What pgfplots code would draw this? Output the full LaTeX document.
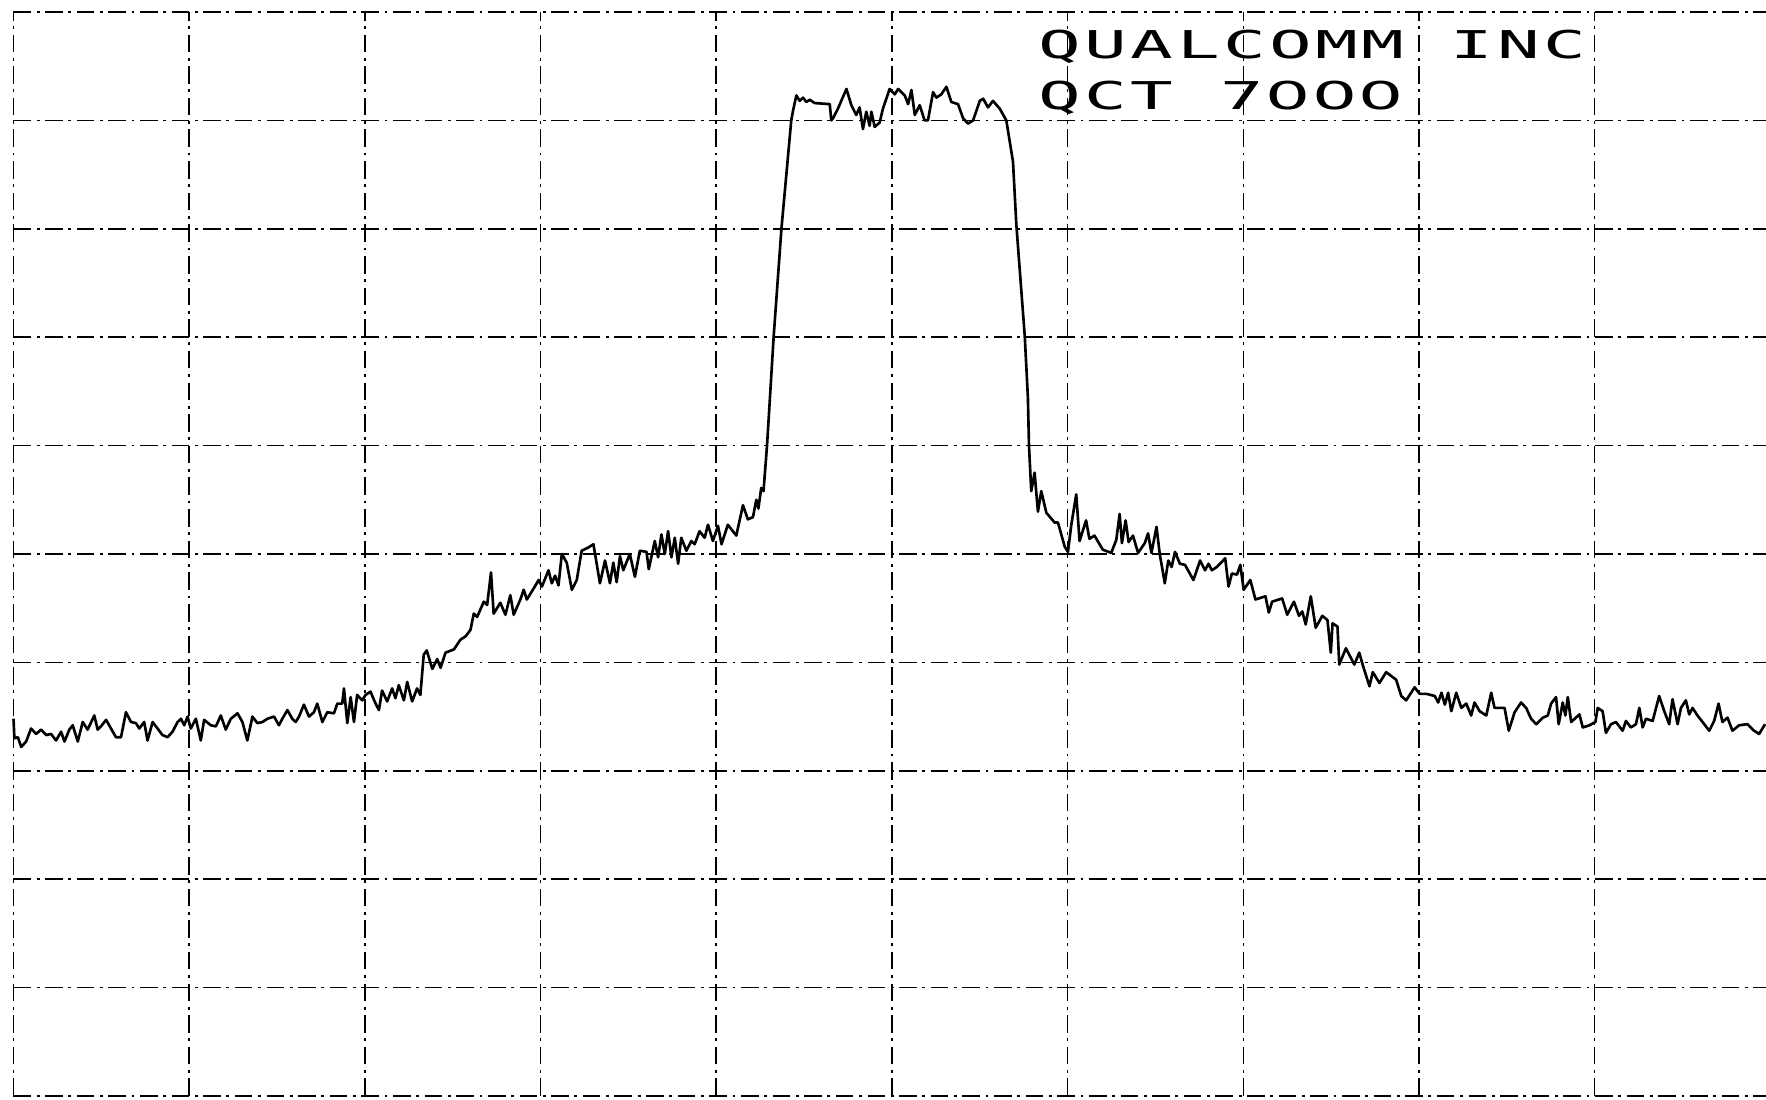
\documentclass[border=0pt]{standalone}
\usepackage{pgfplots}
\pgfplotsset{compat=1.18}
\usepackage{fontspec}
\newfontfamily\plotfont[LetterSpace=5]{DejaVu Sans Mono}
\newfontfamily\plotdigits[LetterSpace=1.6]{DejaVu Sans}
\begin{document}
\begin{tikzpicture}
\path[use as bounding box] (0,0) rectangle (17.66cm,10.99cm);
\begin{axis}[
  at={(0.135cm,0.03cm)}, anchor=south west,
  scale only axis, width=17.525cm, height=10.84cm,
  xmin=0, xmax=9.975, ymin=0, ymax=10,
  xtick={0,1,...,9}, ytick={0,1,...,10},
  xticklabels={}, yticklabels={},
  major tick length=0pt,
  axis line style={draw=none},
  grid=major,
  major grid style={black, line width=0.45pt, dash pattern=on 5pt off 1.6pt on 0.8pt off 1.6pt},
  clip=false,
]
\addplot[black, line width=0.75pt, line join=round, mark=none] coordinates {
(0,3.48)(0.005,3.30)(0.025,3.31)(0.044,3.22)(0.072,3.27)(0.100,3.39)(0.129,3.34)(0.157,3.38)(0.186,3.33)(0.214,3.34)(0.242,3.28)(0.271,3.36)(0.290,3.27)(0.318,3.38)(0.337,3.42)(0.366,3.27)(0.394,3.45)(0.422,3.38)(0.460,3.51)(0.479,3.38)(0.498,3.41)(0.527,3.47)(0.555,3.39)(0.583,3.31)(0.612,3.31)(0.640,3.54)(0.669,3.45)(0.697,3.44)(0.716,3.39)(0.744,3.45)(0.763,3.28)(0.792,3.45)(0.820,3.39)(0.848,3.33)(0.877,3.31)(0.905,3.36)(0.934,3.45)(0.953,3.48)(0.972,3.42)(0.991,3.50)(1.009,3.39)(1.038,3.48)(1.066,3.28)(1.085,3.47)(1.123,3.42)(1.152,3.41)(1.180,3.51)(1.208,3.38)(1.237,3.48)(1.275,3.53)(1.303,3.45)(1.331,3.28)(1.360,3.50)(1.388,3.44)(1.417,3.45)(1.445,3.48)(1.483,3.50)(1.511,3.42)(1.530,3.48)(1.559,3.56)(1.587,3.48)(1.606,3.45)(1.625,3.50)(1.653,3.61)(1.682,3.50)(1.710,3.54)(1.729,3.62)(1.758,3.45)(1.786,3.54)(1.824,3.53)(1.843,3.62)(1.871,3.62)(1.881,3.76)(1.900,3.44)(1.919,3.68)(1.938,3.45)(1.956,3.70)(1.985,3.65)(2.004,3.70)(2.032,3.73)(2.061,3.62)(2.080,3.56)(2.098,3.74)(2.127,3.64)(2.155,3.76)(2.174,3.67)(2.193,3.79)(2.222,3.65)(2.241,3.82)(2.269,3.64)(2.297,3.76)(2.316,3.70)(2.335,4.07)
(2.352,4.11)(2.384,3.94)(2.412,4.03)(2.431,3.95)(2.459,4.09)(2.507,4.12)(2.544,4.21)(2.573,4.24)(2.601,4.30)(2.620,4.45)(2.639,4.42)(2.677,4.56)(2.696,4.53)(2.718,4.83)(2.733,4.45)(2.771,4.55)(2.800,4.44)(2.828,4.62)(2.847,4.44)(2.885,4.58)(2.904,4.67)(2.922,4.58)(2.960,4.68)(2.989,4.76)(3.008,4.70)(3.045,4.85)(3.064,4.73)(3.083,4.80)(3.102,4.71)(3.121,5.00)(3.149,4.92)(3.178,4.67)(3.206,4.76)(3.234,5.03)(3.272,5.06)(3.301,5.09)(3.338,4.73)(3.367,4.94)(3.395,4.73)(3.414,4.92)(3.433,4.74)(3.452,4.98)(3.471,4.85)(3.508,5.00)(3.537,4.79)(3.565,5.03)(3.603,5.02)(3.616,4.86)(3.650,5.12)(3.669,4.97)(3.688,5.18)(3.707,5.00)(3.726,5.21)(3.745,4.97)(3.764,5.15)(3.783,4.91)(3.801,5.15)(3.830,5.03)(3.858,5.12)(3.877,5.09)(3.905,5.21)(3.934,5.15)(3.953,5.27)(3.981,5.12)(4.010,5.26)(4.030,5.09)(4.066,5.27)(4.114,5.17)(4.152,5.45)(4.180,5.32)(4.209,5.34)(4.228,5.50)(4.240,5.42)(4.256,5.61)(4.269,5.58)(4.289,6.00)(4.327,7.01)(4.371,8.00)(4.427,9.00)
(4.437,9.09)(4.456,9.23)(4.475,9.18)(4.494,9.21)(4.513,9.17)(4.532,9.19)(4.560,9.16)(4.646,9.15)(4.655,9.00)(4.665,9.02)(4.693,9.11)(4.741,9.29)(4.769,9.14)(4.797,9.05)(4.816,9.12)(4.835,8.92)(4.854,9.08)(4.873,8.95)(4.883,9.08)(4.902,8.94)(4.930,8.98)(4.949,9.11)(4.987,9.29)(5.016,9.24)(5.035,9.29)(5.073,9.23)(5.092,9.15)(5.111,9.28)(5.130,9.05)(5.158,9.14)(5.186,9.00)(5.205,9.00)(5.234,9.26)(5.253,9.21)(5.281,9.24)(5.310,9.31)(5.338,9.17)(5.376,9.15)(5.405,9.02)(5.433,8.97)(5.462,9.00)(5.500,9.18)(5.519,9.20)(5.547,9.12)(5.575,9.18)(5.613,9.11)(5.651,9.00)(5.689,8.62)(5.708,8.04)(5.756,7.01)(5.774,6.44)(5.780,6.00)
(5.793,5.58)(5.812,5.75)(5.831,5.39)(5.850,5.58)(5.879,5.38)(5.926,5.29)(5.945,5.29)(5.983,5.07)(6.002,5.02)(6.021,5.27)(6.049,5.55)(6.068,5.12)(6.105,5.31)(6.124,5.14)(6.153,5.17)(6.200,5.04)(6.248,5.01)(6.277,5.13)(6.296,5.37)(6.309,5.10)(6.330,5.31)(6.347,5.11)(6.372,5.17)(6.401,5.01)(6.439,5.10)(6.458,5.19)(6.477,5.01)(6.506,5.25)(6.525,4.99)(6.534,4.91)(6.553,4.73)(6.573,4.94)(6.592,4.88)(6.611,5.02)(6.639,4.91)(6.668,4.90)(6.716,4.76)(6.754,4.94)(6.782,4.85)(6.802,4.91)(6.821,4.85)(6.849,4.88)(6.897,4.96)(6.916,4.70)(6.935,4.82)(6.964,4.81)(6.983,4.90)(7.002,4.67)(7.040,4.76)(7.069,4.58)(7.126,4.61)(7.145,4.46)(7.164,4.56)(7.221,4.59)(7.250,4.44)(7.288,4.56)(7.317,4.43)(7.336,4.47)(7.355,4.35)(7.384,4.61)(7.412,4.32)(7.450,4.43)(7.479,4.39)(7.498,4.09)(7.508,4.36)(7.536,4.33)(7.546,3.98)(7.584,4.13)(7.632,3.98)(7.660,4.09)(7.679,3.98)(7.718,3.78)(7.737,3.91)(7.775,3.81)(7.813,3.91)(7.870,3.84)(7.899,3.69)(7.927,3.65)(7.975,3.77)(8.004,3.71)(8.042,3.71)(8.090,3.69)(8.109,3.63)(8.128,3.72)(8.147,3.61)(8.166,3.72)
(8.184,3.55)(8.212,3.72)(8.241,3.58)(8.269,3.62)(8.297,3.51)(8.316,3.63)(8.345,3.55)(8.383,3.51)(8.411,3.72)(8.430,3.58)(8.487,3.58)(8.511,3.37)(8.544,3.54)(8.581,3.63)(8.610,3.58)(8.638,3.48)(8.667,3.43)(8.705,3.49)(8.733,3.51)(8.752,3.62)(8.780,3.68)(8.795,3.43)(8.818,3.63)(8.833,3.51)(8.847,3.68)(8.866,3.45)(8.913,3.52)(8.932,3.40)(8.970,3.42)(9.004,3.45)(9.017,3.58)(9.045,3.55)(9.064,3.35)(9.093,3.43)(9.121,3.45)(9.159,3.37)(9.178,3.46)(9.206,3.40)(9.235,3.43)(9.254,3.58)(9.273,3.40)(9.292,3.48)(9.330,3.46)(9.367,3.69)(9.396,3.55)(9.424,3.43)(9.443,3.66)(9.472,3.43)(9.491,3.58)(9.519,3.65)(9.538,3.52)(9.557,3.58)(9.585,3.51)(9.614,3.45)(9.652,3.37)(9.680,3.46)(9.705,3.62)(9.727,3.45)(9.756,3.49)(9.784,3.37)(9.822,3.42)(9.869,3.43)(9.907,3.37)(9.936,3.34)(9.970,3.43)
};
\node[anchor=base west, inner sep=0pt] at (axis cs:5.83,9.57)
  {\scalebox{1.85}[1]{\fontsize{10.9}{13}\plotfont QUALCOMM INC}};
\node[anchor=base west, inner sep=0pt] at (axis cs:5.83,9.10)
  {\scalebox{1.85}[1]{\fontsize{10.9}{13}\plotfont QCT \plotdigits 7000}};
\end{axis}
\end{tikzpicture}
\end{document}
